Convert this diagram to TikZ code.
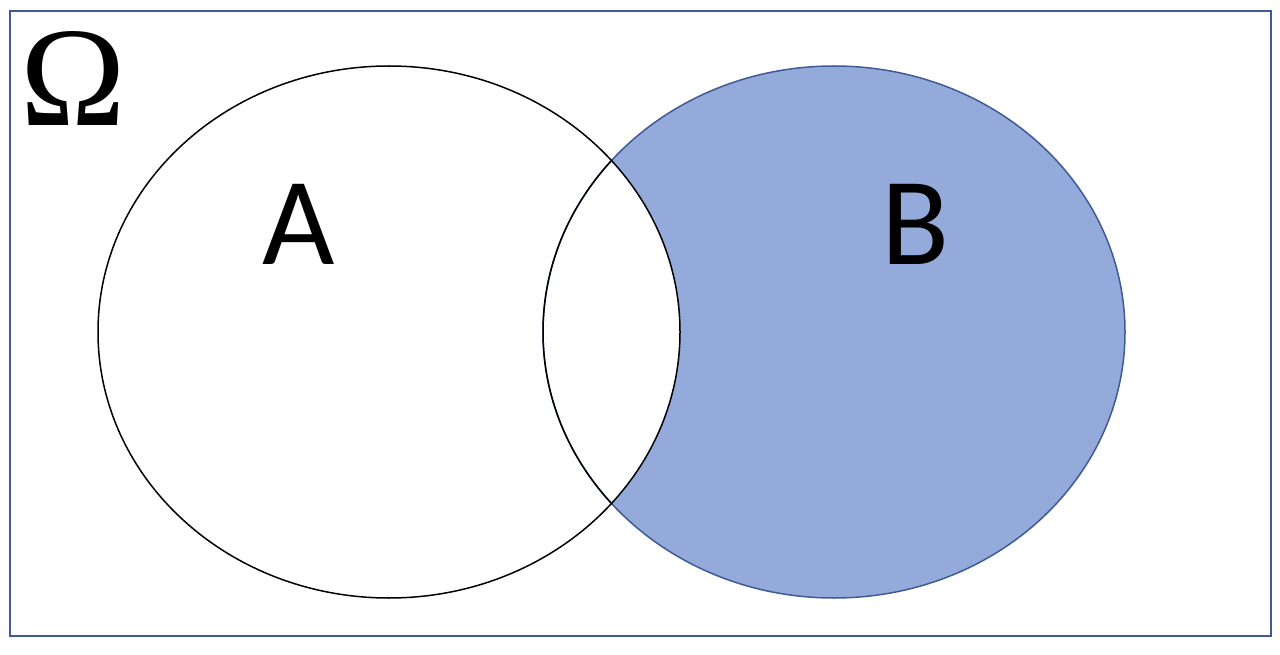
\documentclass[tikz,border=0pt]{standalone}
\usepackage{fontspec}
\newfontfamily\labelfont{Carlito}
\newfontfamily\omegafont{Liberation Serif}
\definecolor{setblue}{HTML}{94AADA}
\definecolor{frameblue}{HTML}{3F5A96}
\tikzset{
  setlabel/.style={font=\labelfont\fontsize{125}{125}\selectfont, inner sep=0pt},
}
\begin{document}
\begin{tikzpicture}[x=1pt, y=-1pt]
  \useasboundingbox (0, 0) rectangle (1280, 655);
  \draw[frameblue, line width=1.5pt] (10, 11) rectangle (1271, 636);
  \fill[setblue] (834, 332) ellipse (291 and 266);
  \fill[white] (389, 332) ellipse (291 and 266);
  \draw[frameblue, line width=1.5pt] (834, 332) ellipse (291 and 266);
  \begin{scope}
    \clip (389, 332) ellipse (291 and 266);
    \draw[black, line width=1.5pt] (834, 332) ellipse (291 and 266);
  \end{scope}
  \draw[black, line width=1.5pt] (389, 332) ellipse (291 and 266);
  \node[inner sep=0pt, font=\omegafont\fontsize{142}{142}\selectfont] (omega) at (73, 78) {Ω};
  \node[setlabel] (a) at (299, 224) {A};
  \node[setlabel] (b) at (915, 224) {B};
\end{tikzpicture}
\end{document}
